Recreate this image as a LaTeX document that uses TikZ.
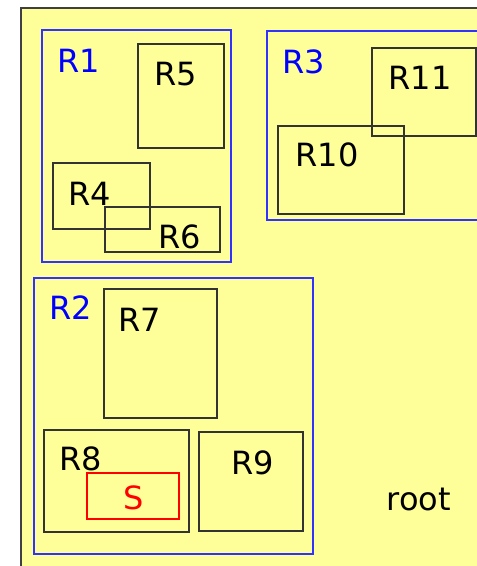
\documentclass[tikz,border=0pt]{standalone}
\usepackage{fontspec}
\setmainfont{DejaVu Sans}
\definecolor{rootfill}{RGB}{255,255,153}
\definecolor{mbrblue}{RGB}{50,50,255}

\begin{document}
\begin{tikzpicture}[x=1pt,y=-1pt,
	leaf/.style={draw=black!80,line width=1.3pt},
	mbr/.style={draw=mbrblue,line width=1.2pt},
	lbl/.style={font=\fontsize{32}{32}\selectfont,inner sep=0pt,anchor=base}]

\useasboundingbox (0,0) rectangle (477,566);
\clip (0,0) rectangle (477,566);

% root
\draw [fill=rootfill,draw=black!75,line width=1.6pt] (21,8) rectangle (500,600);

% blue bounding rectangles
\foreach \n/\xa/\ya/\xb/\yb in {r1/42/30/231/262, r2/34/278/313/554, r3/267/31/500/220} {
	\draw [mbr] (\xa,\ya) rectangle (\xb,\yb);
	\coordinate (\n) at (\xa,\ya);
}

% leaf rectangles
\foreach \n/\xa/\ya/\xb/\yb in {r5/138/44/224/148, r4/53/163/150/229, r6/105/207/220/252,
	r11/372/48/476/136, r10/278/126/404/214, r7/104/289/217/418,
	r8/44/430/189/532, r9/199/432/303/531} {
	\draw [leaf] (\xa,\ya) rectangle (\xb,\yb);
	\coordinate (\n) at (\xa,\ya);
}

% search window
\draw [draw=red,line width=1.3pt] (87,473) rectangle (179,519);

% labels
\foreach \t/\x/\y in {R1/79/72, R2/71/319, R3/304/73} {
	\node [lbl,text=blue] (l\t) at (\x,\y) {\t};
}
\foreach \t/\x/\y in {R5/176/85, R4/90/205, R6/180/248, R11/420/89, R10/327/166,
	R7/140/331, R8/81/470, R9/253/474, root/419/510} {
	\node [lbl] (l\t) at (\x,\y) {\t};
}
\node [lbl,text=red] (lS) at (134,509) {S};

\end{tikzpicture}
\end{document}
